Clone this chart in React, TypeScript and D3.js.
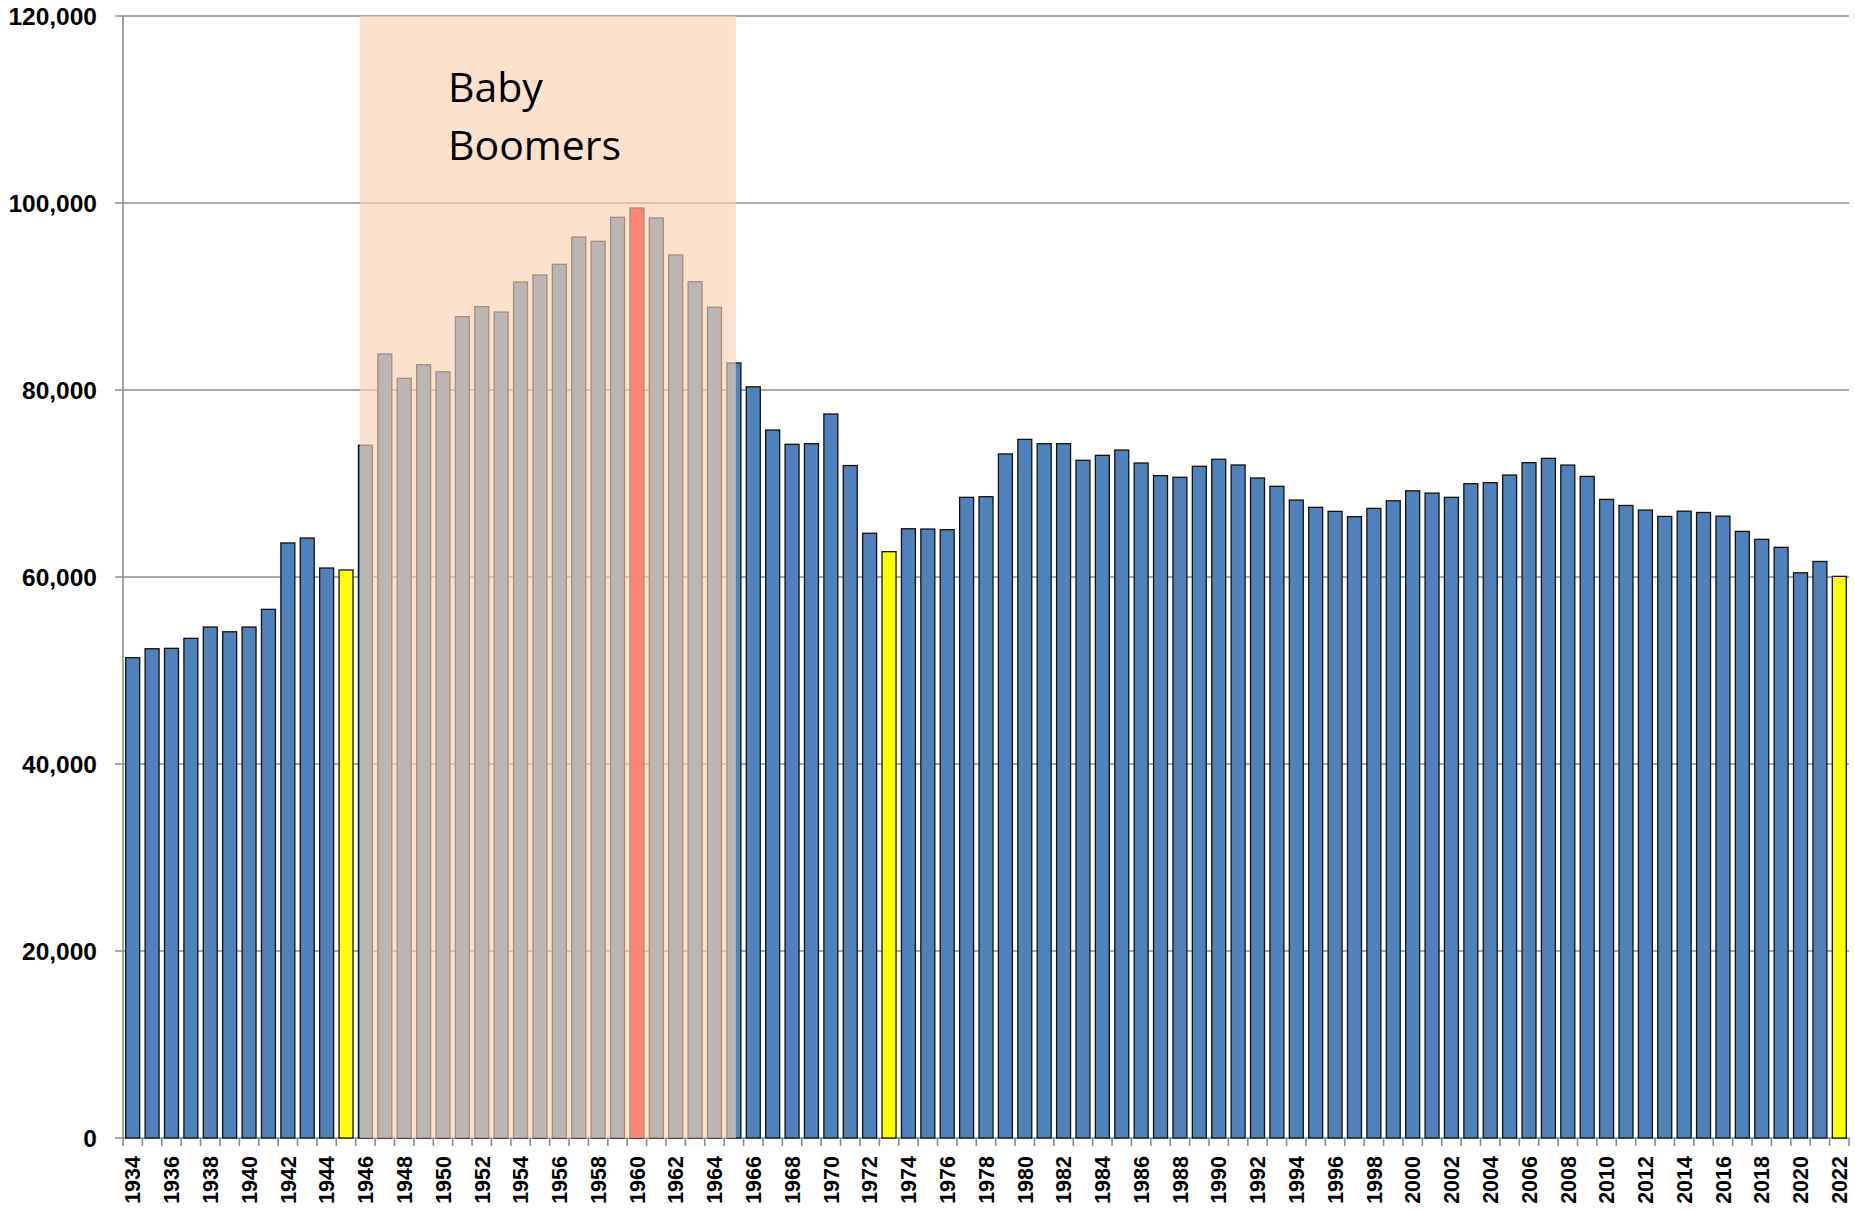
import React, { useRef, useEffect } from 'react';
import * as d3 from 'd3';

// births per year, 1934 - 2022
const years: number[] = d3.range(1934, 2023);
const births: number[] = [
  51370, 52330, 52370, 53440, 54650, 54140, 54650, 56540, 63640, 64170,
  60960, 60750, 74090, 83850, 81250, 82700, 81950, 87840, 88910, 88340,
  91550, 92300, 93440, 96360, 95900, 98470, 99470, 98400, 94440, 91580,
  88850, 82890, 80340, 75720, 74190, 74260, 77430, 71920, 64680, 62710,
  65160, 65130, 65060, 68520, 68590, 73160, 74720, 74260, 74260, 72480,
  73010, 73580, 72190, 70840, 70660, 71840, 72590, 71980, 70590, 69700,
  68230, 67450, 67020, 66450, 67340, 68150, 69220, 68970, 68520, 69980,
  70090, 70900, 72230, 72690, 71970, 70760, 68300, 67650, 67160, 66480,
  67040, 66900, 66510, 64880, 64030, 63170, 60450, 61660, 60070,
];
const yellowYears: number[] = [1945, 1973, 2022];
const peakYear = 1960;
const boomerFirst = 1946;
const boomerLast = 1965;
const boomerLabel: string[] = ['Baby', 'Boomers'];
const yTicks: number[] = [0, 20000, 40000, 60000, 80000, 100000, 120000];

const W = 1855;
const H = 1211;

const Chart = () => {
  const ref = useRef<SVGGElement>(null);

  useEffect(() => {
    const g = d3.select(ref.current);
    g.selectAll('*').remove();

    const left = 123;
    const right = 1849;
    const top = 16;
    const bottom = 1138;

    const data = years.map((y, i) => ({ year: y, value: births[i] }));

    const x = d3
      .scaleBand<number>()
      .domain(years)
      .range([left, right])
      .paddingInner(0.28)
      .paddingOuter(0.14);
    const step = x.step();
    const bw = x.bandwidth();

    const y = d3.scaleLinear().domain([0, 120000]).range([bottom, top]);

    const gridColor = '#8c8c8c';

    // gridlines
    g.append('g')
      .selectAll('line')
      .data(yTicks.filter(d => d > 0))
      .enter()
      .append('line')
      .attr('x1', left - 8)
      .attr('x2', right)
      .attr('y1', d => y(d))
      .attr('y2', d => y(d))
      .attr('stroke', gridColor)
      .attr('stroke-width', 1.4);

    // y axis line
    g.append('line')
      .attr('x1', left)
      .attr('x2', left)
      .attr('y1', top)
      .attr('y2', bottom)
      .attr('stroke', gridColor)
      .attr('stroke-width', 1.6);

    // y labels
    g.append('g')
      .selectAll('text')
      .data(yTicks)
      .enter()
      .append('text')
      .attr('x', 97)
      .attr('y', d => y(d))
      .attr('dy', '0.36em')
      .attr('text-anchor', 'end')
      .attr('font-family', 'Liberation Sans, Arial, sans-serif')
      .attr('font-weight', 'bold')
      .attr('font-size', 24.5)
      .attr('fill', '#000')
      .text(d => d3.format(',')(d));

    // x axis line and ticks
    g.append('line')
      .attr('x1', left - 8)
      .attr('x2', right)
      .attr('y1', bottom)
      .attr('y2', bottom)
      .attr('stroke', gridColor)
      .attr('stroke-width', 1.6);

    g.append('g')
      .selectAll('line')
      .data([...years, 2023])
      .enter()
      .append('line')
      .attr('x1', (d, i) => left + i * step)
      .attr('x2', (d, i) => left + i * step)
      .attr('y1', bottom)
      .attr('y2', bottom + 8)
      .attr('stroke', gridColor)
      .attr('stroke-width', 1.6);

    // bars
    g.append('g')
      .selectAll('rect')
      .data(data)
      .enter()
      .append('rect')
      .attr('x', d => x(d.year)!)
      .attr('y', d => y(d.value))
      .attr('width', bw)
      .attr('height', d => bottom - y(d.value))
      .attr('fill', d =>
        d.year === peakYear ? '#ff0000' : yellowYears.includes(d.year) ? '#ffff00' : '#4f81bd'
      )
      .attr('stroke', '#111')
      .attr('stroke-width', 1.3);

    // baby boomer overlay
    const ox0 = x(boomerFirst)! + 1.5;
    const ox1 = x(boomerLast)! + bw * 0.64;
    g.append('rect')
      .attr('x', ox0)
      .attr('y', top)
      .attr('width', ox1 - ox0)
      .attr('height', bottom - top)
      .attr('fill', '#fad0b0')
      .attr('opacity', 0.645);

    g.append('text')
      .attr('x', 448)
      .attr('font-family', 'Open Sans, sans-serif')
      .attr('font-size', 41)
      .attr('fill', '#000')
      .selectAll('tspan')
      .data(boomerLabel)
      .enter()
      .append('tspan')
      .attr('x', 448)
      .attr('y', (d, i) => 102 + i * 58)
      .text(d => d);

    // x labels, every other year
    g.append('g')
      .selectAll('text')
      .data(years.filter(d => (d - years[0]) % 2 === 0))
      .enter()
      .append('text')
      .attr('transform', d => `translate(${x(d)! + bw / 2}, 1156) rotate(-90)`)
      .attr('dy', '0.36em')
      .attr('text-anchor', 'end')
      .attr('font-family', 'Liberation Sans, Arial, sans-serif')
      .attr('font-weight', 'bold')
      .attr('font-size', 21.5)
      .attr('fill', '#000')
      .text(d => String(d));
  }, []);

  return (
    <svg width={W} height={H} style={{ display: 'block', background: '#fff' }}>
      <g ref={ref} />
    </svg>
  );
};

export default function App() {
  return (
    <div style={{ position: 'absolute', left: 0, top: 0 }}>
      <Chart />
    </div>
  );
}
